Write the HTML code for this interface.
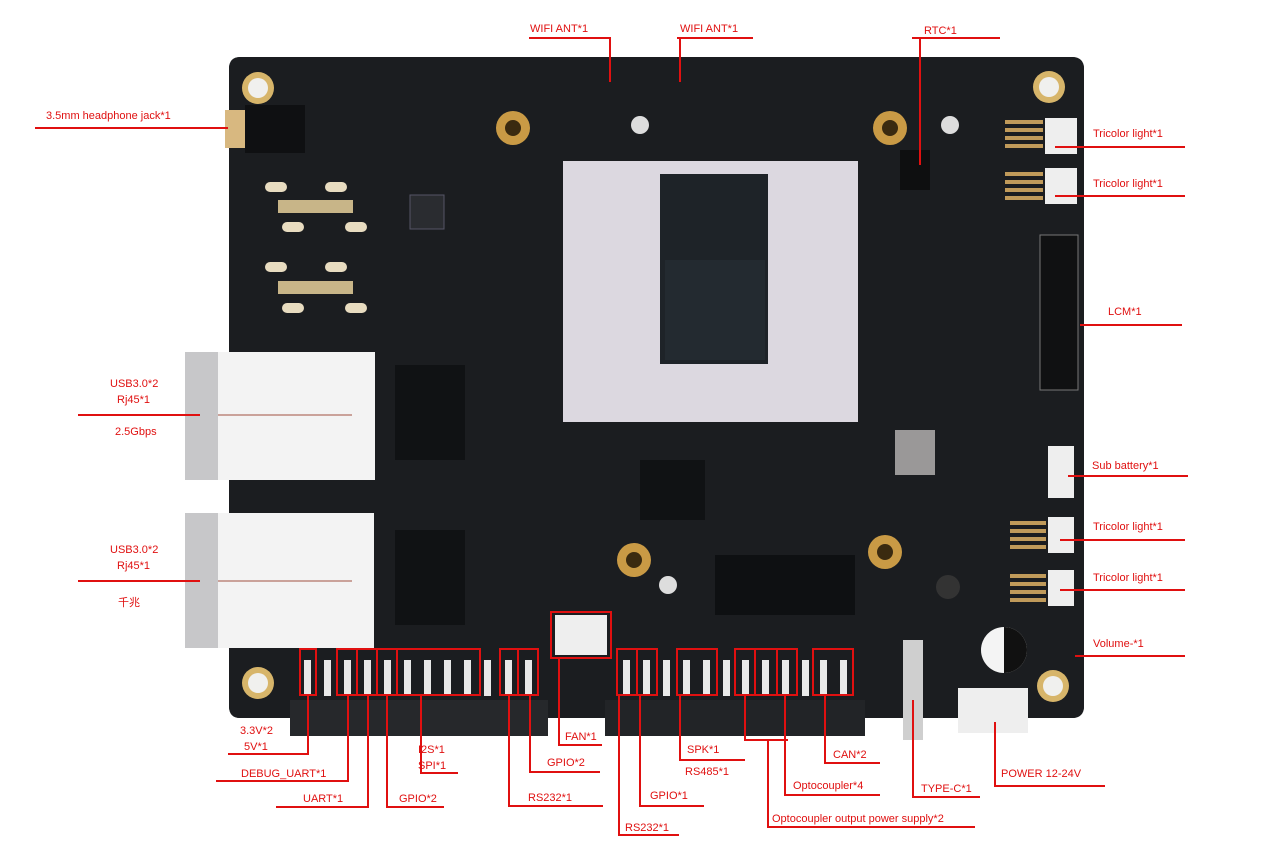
<!DOCTYPE html>
<html><head><meta charset="utf-8"><style>
html,body{margin:0;padding:0;background:#fff;}
body{width:1266px;height:856px;overflow:hidden;position:relative;}
svg{position:absolute;left:0;top:0;}
text{font-family:"Liberation Sans","Noto Sans CJK SC",sans-serif;font-size:11px;fill:#e01010;}
</style></head><body>
<svg width="1266" height="856" viewBox="0 0 1266 856">
<!-- board -->
<path d="M240 57 H1072 Q1084 57 1084 69 V706 Q1084 718 1072 718 H865 V735 H605 V718 H548 V735 H290 V718 H240 Q229 718 229 706 V69 Q229 57 240 57 Z" fill="#1a1c1e"/>
<rect x="229" y="57" width="855" height="661" rx="11" fill="#1b1d20"/>
<rect x="290" y="700" width="258" height="36" fill="#26282b"/>
<rect x="605" y="700" width="260" height="36" fill="#222427"/>
<!-- mounting holes -->
<g fill="#d7b56a"><circle cx="258" cy="88" r="16"/><circle cx="1049" cy="87" r="16"/><circle cx="258" cy="683" r="16"/><circle cx="1053" cy="686" r="16"/></g>
<g fill="#f0f0ee"><circle cx="258" cy="88" r="10"/><circle cx="1049" cy="87" r="10"/><circle cx="258" cy="683" r="10"/><circle cx="1053" cy="686" r="10"/></g>
<g fill="#c99a45"><circle cx="513" cy="128" r="17"/><circle cx="890" cy="128" r="17"/><circle cx="634" cy="560" r="17"/><circle cx="885" cy="552" r="17"/></g>
<g fill="#3a2a10"><circle cx="513" cy="128" r="8"/><circle cx="890" cy="128" r="8"/><circle cx="634" cy="560" r="8"/><circle cx="885" cy="552" r="8"/></g>
<g fill="#ddd"><circle cx="640" cy="125" r="9"/><circle cx="950" cy="125" r="9"/><circle cx="668" cy="585" r="9"/><circle cx="948" cy="587" r="12" fill="#333"/></g>
<!-- headphone jack -->
<rect x="225" y="110" width="22" height="38" fill="#d8b880"/><rect x="245" y="105" width="60" height="48" fill="#0f1012"/>
<!-- HDMI pads -->
<g fill="#e8dcc0"><rect x="265" y="182" width="22" height="10" rx="5"/><rect x="325" y="182" width="22" height="10" rx="5"/><rect x="282" y="222" width="22" height="10" rx="5"/><rect x="345" y="222" width="22" height="10" rx="5"/>
<rect x="278" y="200" width="75" height="13" fill="#c8b588"/>
<rect x="265" y="262" width="22" height="10" rx="5"/><rect x="325" y="262" width="22" height="10" rx="5"/><rect x="282" y="303" width="22" height="10" rx="5"/><rect x="345" y="303" width="22" height="10" rx="5"/>
<rect x="278" y="281" width="75" height="13" fill="#c8b588"/></g>
<rect x="410" y="195" width="34" height="34" fill="#2a2c30" stroke="#556" />
<!-- shield -->
<rect x="563" y="161" width="295" height="261" fill="#dcd8e0"/>
<rect x="660" y="174" width="108" height="190" fill="#1e2328"/>
<rect x="665" y="260" width="100" height="100" fill="#232a30"/>
<!-- misc chips -->
<rect x="640" y="460" width="65" height="60" fill="#101214"/>
<rect x="715" y="555" width="140" height="60" fill="#0e1012"/>
<rect x="895" y="430" width="40" height="45" fill="#9a9898"/>
<rect x="900" y="150" width="30" height="40" fill="#0e0f10"/>
<!-- LCM connector -->
<rect x="1040" y="235" width="38" height="155" fill="#101112" stroke="#777"/>
<!-- tricolor / connectors right -->
<g fill="#eeeeee"><rect x="1045" y="118" width="32" height="36"/><rect x="1045" y="168" width="32" height="36"/><rect x="1048" y="446" width="26" height="52"/><rect x="1048" y="517" width="26" height="36"/><rect x="1048" y="570" width="26" height="36"/></g>
<g fill="#c09a5a"><rect x="1005" y="120" width="38" height="4"/><rect x="1005" y="128" width="38" height="4"/><rect x="1005" y="136" width="38" height="4"/><rect x="1005" y="144" width="38" height="4"/>
<rect x="1005" y="172" width="38" height="4"/><rect x="1005" y="180" width="38" height="4"/><rect x="1005" y="188" width="38" height="4"/><rect x="1005" y="196" width="38" height="4"/>
<rect x="1010" y="521" width="36" height="4"/><rect x="1010" y="529" width="36" height="4"/><rect x="1010" y="537" width="36" height="4"/><rect x="1010" y="545" width="36" height="4"/>
<rect x="1010" y="574" width="36" height="4"/><rect x="1010" y="582" width="36" height="4"/><rect x="1010" y="590" width="36" height="4"/><rect x="1010" y="598" width="36" height="4"/></g>
<!-- capacitor -->
<circle cx="1004" cy="650" r="23" fill="#f4f4f4"/><path d="M1004 627 A23 23 0 0 1 1004 673 Z" fill="#111"/>
<!-- power connector -->
<rect x="958" y="688" width="70" height="45" fill="#eeeeee"/>
<!-- type C -->
<rect x="903" y="640" width="20" height="100" fill="#cfcfcf"/>
<!-- ethernet jacks -->
<rect x="185" y="352" width="33" height="128" fill="#c7c7c9"/><rect x="218" y="352" width="157" height="128" fill="#f3f3f3"/>
<line x1="218" y1="415" x2="352" y2="415" stroke="#a05040" stroke-width="1"/>
<rect x="185" y="513" width="33" height="135" fill="#c7c7c9"/><rect x="218" y="513" width="156" height="135" fill="#f3f3f3"/>
<line x1="218" y1="581" x2="352" y2="581" stroke="#a05040" stroke-width="1"/>
<rect x="395" y="365" width="70" height="95" fill="#101214"/><rect x="395" y="530" width="70" height="95" fill="#101214"/>
<!-- header pins -->
<g fill="#e8e8e8">
<rect x="304" y="660" width="7" height="36"/><rect x="324" y="660" width="7" height="36"/><rect x="344" y="660" width="7" height="36"/><rect x="364" y="660" width="7" height="36"/><rect x="384" y="660" width="7" height="36"/><rect x="404" y="660" width="7" height="36"/><rect x="424" y="660" width="7" height="36"/><rect x="444" y="660" width="7" height="36"/><rect x="464" y="660" width="7" height="36"/><rect x="484" y="660" width="7" height="36"/><rect x="505" y="660" width="7" height="36"/><rect x="525" y="660" width="7" height="36"/>
<rect x="623" y="660" width="7" height="36"/><rect x="643" y="660" width="7" height="36"/><rect x="663" y="660" width="7" height="36"/><rect x="683" y="660" width="7" height="36"/><rect x="703" y="660" width="7" height="36"/><rect x="723" y="660" width="7" height="36"/><rect x="742" y="660" width="7" height="36"/><rect x="762" y="660" width="7" height="36"/><rect x="782" y="660" width="7" height="36"/><rect x="802" y="660" width="7" height="36"/><rect x="820" y="660" width="7" height="36"/><rect x="840" y="660" width="7" height="36"/></g>
<rect x="555" y="615" width="52" height="40" fill="#eeeeee"/>
<!-- red boxes -->
<g fill="none" stroke="#e01010" stroke-width="2">
<rect x="300" y="649" width="16" height="46"/><rect x="337" y="649" width="20" height="46"/><rect x="357" y="649" width="20" height="46"/><rect x="377" y="649" width="20" height="46"/><rect x="397" y="649" width="83" height="46"/><rect x="500" y="649" width="18" height="46"/><rect x="518" y="649" width="20" height="46"/>
<rect x="617" y="649" width="20" height="46"/><rect x="637" y="649" width="20" height="46"/><rect x="677" y="649" width="40" height="46"/><rect x="735" y="649" width="20" height="46"/><rect x="755" y="649" width="22" height="46"/><rect x="777" y="649" width="20" height="46"/><rect x="813" y="649" width="40" height="46"/>
<rect x="551" y="612" width="60" height="46"/>
</g>
<!-- leader lines -->
<g fill="none" stroke="#e01010" stroke-width="2">
<path d="M529 38 H610 V82"/><path d="M677 38 H753"/><path d="M680 38 V82"/><path d="M912 38 H1000"/><path d="M920 38 V165"/>
<path d="M35 128 H228"/><path d="M1055 147 H1185"/><path d="M1055 196 H1185"/><path d="M1080 325 H1182"/>
<path d="M78 415 H200"/><path d="M78 581 H200"/><path d="M1068 476 H1188"/><path d="M1060 540 H1185"/><path d="M1060 590 H1185"/><path d="M1075 656 H1185"/>
<path d="M228 754 H308 V696"/><path d="M216 781 H348 V696"/><path d="M276 807 H368 V696"/><path d="M444 807 H387 V696"/><path d="M458 773 H421 V696"/>
<path d="M600 772 H530 V696"/><path d="M603 806 H509 V696"/><path d="M602 745 H559 V658"/>
<path d="M679 835 H619 V696"/><path d="M704 806 H640 V696"/><path d="M745 760 H680 V696"/>
<path d="M880 763 H825 V696"/><path d="M880 795 H785 V696"/><path d="M975 827 H768 V740"/><path d="M745 696 V740 H788"/>
<path d="M980 797 H913 V700"/><path d="M1105 786 H995 V722"/>
</g>
<!-- labels -->
<text x="530" y="32">WIFI ANT*1</text><text x="680" y="32">WIFI ANT*1</text><text x="924" y="34">RTC*1</text>
<text x="46" y="119">3.5mm headphone jack*1</text>
<text x="1093" y="137">Tricolor light*1</text><text x="1093" y="187">Tricolor light*1</text>
<text x="1108" y="315">LCM*1</text>
<text x="110" y="387">USB3.0*2</text><text x="117" y="403">Rj45*1</text><text x="115" y="435">2.5Gbps</text>
<text x="1092" y="469">Sub battery*1</text>
<text x="1093" y="530">Tricolor light*1</text><text x="1093" y="581">Tricolor light*1</text>
<text x="110" y="553">USB3.0*2</text><text x="117" y="569">Rj45*1</text><text x="118" y="606">千兆</text>
<text x="1093" y="647">Volume-*1</text>
<text x="240" y="734">3.3V*2</text><text x="244" y="750">5V*1</text>
<text x="241" y="777">DEBUG_UART*1</text><text x="303" y="802">UART*1</text><text x="399" y="802">GPIO*2</text>
<text x="418" y="753">I2S*1</text><text x="418" y="769">SPI*1</text>
<text x="547" y="766">GPIO*2</text><text x="528" y="801">RS232*1</text><text x="565" y="740">FAN*1</text>
<text x="625" y="831">RS232*1</text><text x="650" y="799">GPIO*1</text>
<text x="687" y="753">SPK*1</text><text x="685" y="775">RS485*1</text>
<text x="833" y="758">CAN*2</text><text x="793" y="789">Optocoupler*4</text>
<text x="772" y="822">Optocoupler output power supply*2</text>
<text x="921" y="792">TYPE-C*1</text><text x="1001" y="777">POWER 12-24V</text>
</svg>
</body></html>
